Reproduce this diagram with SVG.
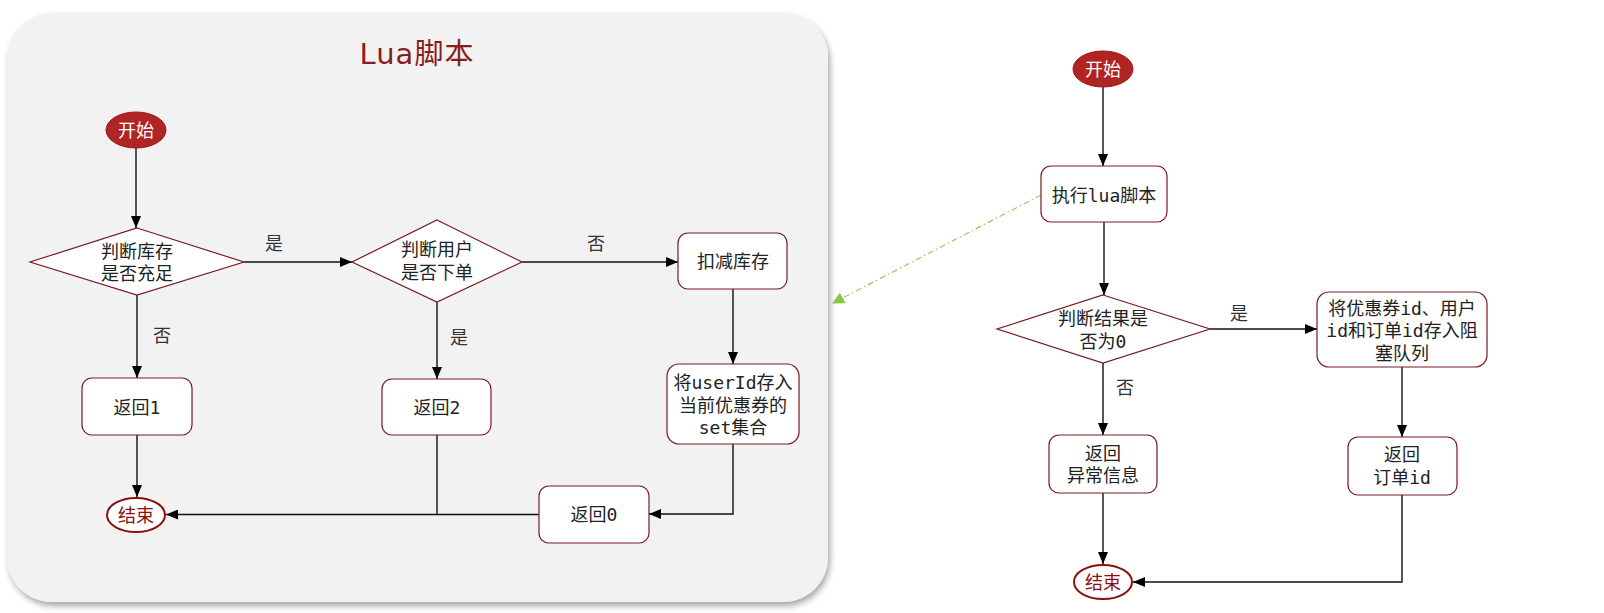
<svg xmlns="http://www.w3.org/2000/svg" width="1604" height="613" viewBox="0 0 1604 613">
<style>
.t{font-family:"DejaVu Sans Mono","Noto Sans CJK SC",monospace;font-size:18px;fill:#222;text-anchor:middle;dominant-baseline:central}
.lbl{font-family:"DejaVu Sans Mono","Noto Sans CJK SC",monospace;font-size:18px;fill:#333;text-anchor:middle;dominant-baseline:central}
.box{fill:#fff;stroke:#7a1a22;stroke-width:1.2}
.start{fill:#b02424;stroke:#9a1c1c;stroke-width:1}
.st{fill:#fff}
.end{fill:#fff;stroke:#8b1010;stroke-width:2}
.et{fill:#8b1010}
.c{fill:none;stroke:#111;stroke-width:1.4}
.g{fill:none;stroke:#9bc46a;stroke-width:1.2;stroke-dasharray:6 3 1.5 3}
</style>
<defs>
<marker id="ah" markerUnits="userSpaceOnUse" markerWidth="12" markerHeight="10" refX="12" refY="5" orient="auto"><path d="M0,0 L12,5 L0,10 z" fill="#000"/></marker>
<marker id="gh" markerUnits="userSpaceOnUse" markerWidth="12" markerHeight="12" refX="11" refY="6" orient="auto"><path d="M0,0 L12,6 L0,12 z" fill="#8bc34a"/></marker>
<filter id="sh" x="-5%" y="-5%" width="110%" height="112%"><feDropShadow dx="2" dy="4" stdDeviation="3" flood-color="#000" flood-opacity="0.35"/></filter>
</defs>
<rect width="1604" height="613" fill="#fff"/>
<g id="panel">
<rect x="7" y="13" width="821" height="589" rx="45" ry="45" fill="#f2f2f2" filter="url(#sh)"/>
<text x="417" y="54" style="font-family:'DejaVu Sans','Noto Sans CJK SC',sans-serif;font-size:29px;fill:#8b1c1c;text-anchor:middle;dominant-baseline:central;letter-spacing:1px">Lua脚本</text>
</g>
<g id="connectors">
<path class="c" d="M136,148 V228" marker-end="url(#ah)"/>
<path class="c" d="M244,262 H352" marker-end="url(#ah)"/>
<path class="c" d="M522,262 H678" marker-end="url(#ah)"/>
<path class="c" d="M137,295 V378" marker-end="url(#ah)"/>
<path class="c" d="M437,302 V379" marker-end="url(#ah)"/>
<path class="c" d="M733,289 V364" marker-end="url(#ah)"/>
<path class="c" d="M137,435 V497" marker-end="url(#ah)"/>
<path class="c" d="M437,435 V514.5"/>
<path class="c" d="M733,444 V514 H649" marker-end="url(#ah)"/>
<path class="c" d="M539,514.5 H166" marker-end="url(#ah)"/>
<path class="c" d="M1103,87 V166" marker-end="url(#ah)"/>
<path class="c" d="M1104,222 V295" marker-end="url(#ah)"/>
<path class="g" d="M1041,195 L833,303" marker-end="url(#gh)"/>
<path class="c" d="M1210,329 H1317" marker-end="url(#ah)"/>
<path class="c" d="M1103,363 V435" marker-end="url(#ah)"/>
<path class="c" d="M1402,367 V437" marker-end="url(#ah)"/>
<path class="c" d="M1103,493 V564" marker-end="url(#ah)"/>
<path class="c" d="M1402,495 V582 H1133" marker-end="url(#ah)"/>
<text class="lbl" x="274" y="243">是</text>
<text class="lbl" x="596" y="243">否</text>
<text class="lbl" x="162" y="335">否</text>
<text class="lbl" x="459" y="337">是</text>
<text class="lbl" x="1239" y="313">是</text>
<text class="lbl" x="1125" y="387">否</text>
</g>
<g id="start1"><ellipse class="start" cx="136" cy="130" rx="30" ry="18"/><text class="t st" x="136" y="130">开始</text></g>
<g id="d1"><polygon class="box" points="137,228 244,262 137,295 30,262"/><text class="t" x="137" y="251">判断库存</text><text class="t" x="137" y="273">是否充足</text></g>
<g id="d2"><polygon class="box" points="437,220 522,262 437,302 352,262"/><text class="t" x="437" y="249">判断用户</text><text class="t" x="437" y="272">是否下单</text></g>
<g id="deduct"><rect class="box" x="678" y="233" width="109" height="56" rx="10"/><text class="t" x="733" y="261">扣减库存</text></g>
<g id="ret1"><rect class="box" x="82" y="378" width="110" height="57" rx="10"/><text class="t" x="137" y="407">返回1</text></g>
<g id="ret2"><rect class="box" x="382" y="379" width="109" height="56" rx="10"/><text class="t" x="437" y="407">返回2</text></g>
<g id="store"><rect class="box" x="667" y="364" width="132" height="80" rx="12"/><text class="t" x="733" y="382">将userId存入</text><text class="t" x="733" y="405">当前优惠券的</text><text class="t" x="733" y="427">set集合</text></g>
<g id="ret0"><rect class="box" x="539" y="486" width="110" height="57" rx="10"/><text class="t" x="594" y="514">返回0</text></g>
<g id="end1"><ellipse class="end" cx="136" cy="515" rx="29" ry="17"/><text class="t et" x="136" y="515">结束</text></g>
<g id="start2"><ellipse class="start" cx="1103" cy="69" rx="30" ry="18"/><text class="t st" x="1103" y="69">开始</text></g>
<g id="exec"><rect class="box" x="1041" y="166" width="126" height="56" rx="10"/><text class="t" x="1104" y="195">执行lua脚本</text></g>
<g id="d3"><polygon class="box" points="1103,295 1210,329 1103,363 997,329"/><text class="t" x="1103" y="318">判断结果是</text><text class="t" x="1103" y="341">否为0</text></g>
<g id="queue"><rect class="box" x="1317" y="292" width="170" height="75" rx="12"/><text class="t" x="1402" y="308">将优惠券id、用户</text><text class="t" x="1402" y="330">id和订单id存入阻</text><text class="t" x="1402" y="353">塞队列</text></g>
<g id="retid"><rect class="box" x="1348" y="437" width="109" height="58" rx="10"/><text class="t" x="1402" y="454">返回</text><text class="t" x="1402" y="477">订单id</text></g>
<g id="reterr"><rect class="box" x="1049" y="435" width="108" height="58" rx="10"/><text class="t" x="1103" y="453">返回</text><text class="t" x="1103" y="475">异常信息</text></g>
<g id="end2"><ellipse class="end" cx="1103" cy="582" rx="29" ry="17"/><text class="t et" x="1103" y="582">结束</text></g>
</svg>
